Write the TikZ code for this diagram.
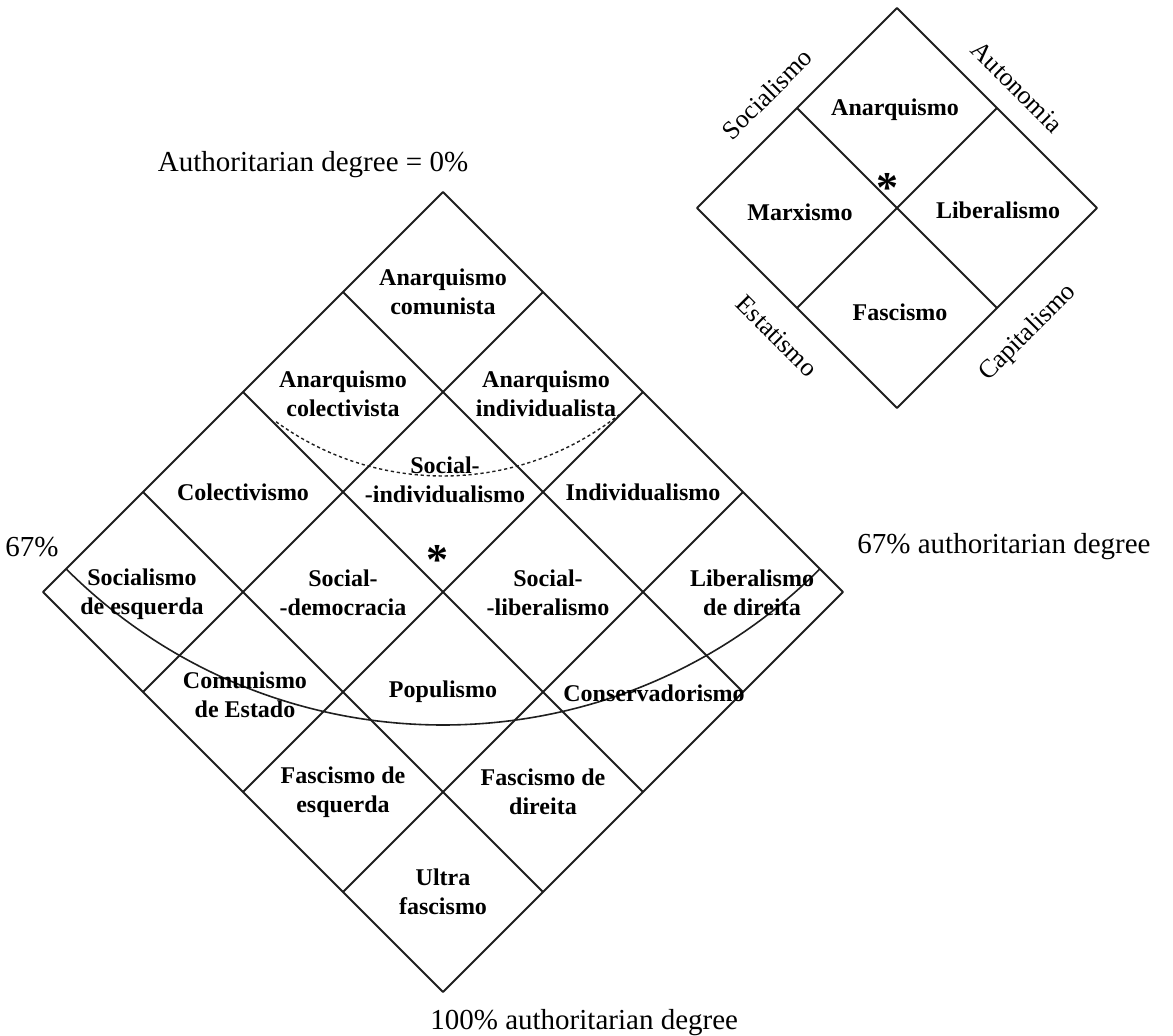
\documentclass[tikz,border=0pt]{standalone}
\usepackage{fontspec}
\setmainfont{Liberation Serif}
\usepackage{tikz}
\usetikzlibrary{calc}
\usetikzlibrary{positioning}

\tikzset{
	cell/.style={align=center,font=\fontsize{12}{14.5}\selectfont\bfseries,inner sep=0pt},
	axislabel/.style={font=\fontsize{13}{15}\selectfont,inner sep=0pt},
	degree/.style={font=\fontsize{14.5}{17}\selectfont,inner sep=0pt},
	star/.style={font=\fontsize{22}{22}\selectfont\bfseries,inner sep=0pt},
	gridline/.style={line width=1pt,black!88},
	arcline/.style={line width=0.8pt,black!88},
	dotline/.style={line width=0.7pt,black!88,dash pattern=on 1.6pt off 1.4pt}
}

\begin{document}
\begin{tikzpicture}[x=50pt,y=-50pt,line join=bevel]
	\useasboundingbox (0,0) rectangle (11.73,10.36);
	
	% big diamond
	\coordinate (T) at (4.43,1.92);
	\coordinate (R) at (8.43,5.92);
	\coordinate (B) at (4.43,9.92);
	\coordinate (L) at (0.43,5.92);
	
	\draw[gridline] (T)--(R)--(B)--(L)--cycle;
	\foreach \k in {1,2,3}{
		\draw[gridline] ($(T)!\k/4!(L)$) -- ($(R)!\k/4!(B)$);
		\draw[gridline] ($(T)!\k/4!(R)$) -- ($(L)!\k/4!(B)$);
	}
	
	\draw[arcline] ($(T)+(135:5.33)$) arc[start angle=135,end angle=45,radius=5.33];
	\draw[dotline] ($(T)+(126:2.84)$) arc[start angle=126,end angle=50.5,radius=2.84];
	
	\node at (4.43,2.92) [cell] (anacom) {Anarquismo\\comunista};
	\node at (3.43,3.94) [cell] (anacol) {Anarquismo\\colectivista};
	\node at (5.46,3.94) [cell] (anaind) {Anarquismo\\individualista};
	\node at (2.43,4.92) [cell] (colect) {Colectivismo};
	\node at (4.45,4.80) [cell] (socind) {Social-\\-individualismo};
	\node at (6.43,4.92) [cell] (indiv)  {Individualismo};
	\node at (1.42,5.94) [cell] (socesq) {Socialismo\\de esquerda};
	\node at (3.43,5.93) [cell] (socdem) {Social-\\-democracia};
	\node at (5.48,5.93) [cell] (soclib) {Social-\\-liberalismo};
	\node at (7.52,5.93) [cell] (libdir) {Liberalismo\\de direita};
	\node at (2.45,6.95) [cell] (comest) {Comunismo\\de Estado};
	\node at (4.43,6.92) [cell] (popul)  {Populismo};
	\node at (6.54,6.93) [cell] (conserv) {Conservadorismo};
	\node at (3.43,7.92) [cell] (fasesq) {Fascismo de\\esquerda};
	\node at (5.43,7.92) [cell] (fasdir) {Fascismo de\\direita};
	\node at (4.43,8.92) [cell] (ultra)  {Ultra\\fascismo};
	\node at (4.37,5.60) [star] (bigstar) {*};
	
	\node at (3.13,1.65) [degree] (zero) {Authoritarian degree = 0\%};
	\node at (0.32,5.47) [degree] (leftpct) {67\%};
	\node at (10.04,5.47) [degree] (rightpct) {67\% authoritarian degree};
	\node at (4.30,10.23) [degree,anchor=west] (full) {100\% authoritarian degree};
	
	% small diamond
	\coordinate (T2) at (8.97,0.08);
	\coordinate (R2) at (10.97,2.08);
	\coordinate (B2) at (8.97,4.08);
	\coordinate (L2) at (6.97,2.08);
	
	\draw[gridline] (T2)--(R2)--(B2)--(L2)--cycle;
	\draw[gridline] ($(T2)!0.5!(L2)$) -- ($(R2)!0.5!(B2)$);
	\draw[gridline] ($(T2)!0.5!(R2)$) -- ($(L2)!0.5!(B2)$);
	
	\node at (8.95,1.10) [cell] (anarq) {Anarquismo};
	\node at (8.00,2.12) [cell] (marx)  {Marxismo};
	\node at (9.98,2.10) [cell] (liber) {Liberalismo};
	\node at (9.00,3.12) [cell] (fasc)  {Fascismo};
	\node at (8.87,1.88) [star] (smallstar) {*};
	
	\node at (7.67,0.94) [axislabel,rotate=45]  (socialismo)  {Socialismo};
	\node at (10.17,0.87) [axislabel,rotate=-45] (autonomia)  {Autonomia};
	\node at (7.77,3.36) [axislabel,rotate=-45] (estatismo)   {Estatismo};
	\node at (10.28,3.33) [axislabel,rotate=45]  (capitalismo) {Capitalismo};
\end{tikzpicture}
\end{document}
